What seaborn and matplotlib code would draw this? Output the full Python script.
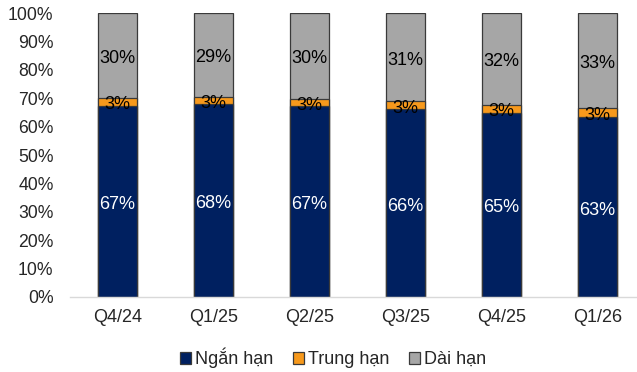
import matplotlib
matplotlib.use("Agg")
import matplotlib.pyplot as plt
import seaborn as sns
import pandas as pd
import numpy as np
from matplotlib.patches import Patch
from matplotlib.transforms import offset_copy

categories = ["Q4/24", "Q1/25", "Q2/25", "Q3/25", "Q4/25", "Q1/26"]
ngan_han = [67.4, 68.0, 67.3, 66.1, 64.8, 63.3]
trung_han = [2.7, 2.6, 2.6, 3.0, 3.0, 3.3]
dai_han = [29.9, 29.4, 30.1, 30.9, 32.2, 33.4]
series_names = ["Ngắn hạn", "Trung hạn", "Dài hạn"]
colors = ["#002060", "#F7991C", "#A6A6A6"]
label_colors = ["white", "black", "black"]

sns.set_theme(style="white")
plt.rcParams["font.family"] = ["Liberation Sans", "DejaVu Sans"]

df = pd.DataFrame({"cat": categories, "n": ngan_han, "t": trung_han, "d": dai_han})
df["c1"] = df["n"]
df["c2"] = df["n"] + df["t"]
df["c3"] = df["n"] + df["t"] + df["d"]

fig = plt.figure(figsize=(6.37, 3.72), dpi=100)
ax = fig.add_axes([69.5 / 637, (372 - 296.7) / 372, 576 / 637, (296.7 - 13.3) / 372])

edge = "#3A3A3A"
bw = 0.41
for col, c in zip(["c3", "c2", "c1"], colors[::-1]):
    sns.barplot(data=df, x="cat", y=col, order=categories, color=c, width=bw,
                edgecolor=edge, linewidth=0.9, errorbar=None, saturation=1, ax=ax)

# data labels (slightly lowered, as in the reference)
tr = offset_copy(ax.transData, fig=fig, x=0, y=-3, units="dots")
for i in range(len(categories)):
    vals = [ngan_han[i], trung_han[i], dai_han[i]]
    bottom = 0
    for v, lc in zip(vals, label_colors):
        ax.text(i, bottom + v / 2, f"{int(round(v))}%", ha="center", va="center",
                fontsize=13, color=lc, transform=tr)
        bottom += v

ax.set_xlim(-0.5, 5.5)
ax.set_ylim(0, 100)
ax.set_yticks(np.arange(0, 101, 10))
ax.set_yticklabels([f"{v}%" for v in range(0, 101, 10)], fontsize=12.7)
ax.tick_params(axis="y", length=0, pad=11.5)
ax.tick_params(axis="x", length=0, pad=9, labelsize=13)
ax.set_xlabel("")
ax.set_ylabel("")
for s in ["top", "right", "left"]:
    ax.spines[s].set_visible(False)
ax.spines["bottom"].set_color("#D9D9D9")
ax.spines["bottom"].set_linewidth(1.0)
ax.grid(False)

handles = [Patch(facecolor=c, edgecolor=edge, linewidth=0.9) for c in colors]
fig.legend(handles, series_names, loc="center", bbox_to_anchor=(333 / 637, 1 - 358 / 372),
           ncol=3, frameon=False, fontsize=13, handlelength=0.62, handleheight=0.62,
           handletextpad=0.2, columnspacing=1.1, borderaxespad=0, borderpad=0)

fig.savefig("out.png", dpi=100)
